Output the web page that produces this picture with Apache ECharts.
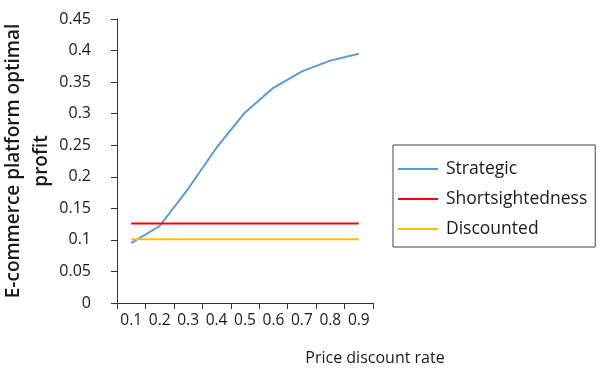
<!DOCTYPE html>
<html>
<head>
<meta charset="utf-8">
<script src="https://cdn.jsdelivr.net/npm/echarts@6/dist/echarts.min.js"></script>
<style>
  html, body { margin: 0; padding: 0; background: #fff; }
  #chart { width: 607px; height: 370px; }
</style>
</head>
<body>
<div id="chart"></div>
<script>
// Price discount rate categories
const discountRates = ['0.1', '0.2', '0.3', '0.4', '0.5', '0.6', '0.7', '0.8', '0.9'];
// Optimal profit of the e-commerce platform under each strategy
const strategic = [0.095, 0.122, 0.181, 0.246, 0.302, 0.341, 0.367, 0.384, 0.395];
const shortsightedness = [0.126, 0.126, 0.126, 0.126, 0.126, 0.126, 0.126, 0.126, 0.126];
const discounted = [0.101, 0.101, 0.101, 0.101, 0.101, 0.101, 0.101, 0.101, 0.101];

const FONT = 'Open Sans';
const TXT = '#1a1a1a';

const chart = echarts.init(document.getElementById('chart'), null, { renderer: 'canvas' });
chart.setOption({
  animation: false,
  backgroundColor: '#fff',
  textStyle: { fontFamily: FONT },
  grid: { left: 117, right: 234, top: 19, bottom: 67, containLabel: false, outerBoundsMode: 'none' },
  legend: {
    orient: 'vertical',
    left: 393,
    top: 145,
    padding: [15, 8, 9, 5],
    borderColor: '#444',
    borderWidth: 1,
    itemGap: 12,
    itemWidth: 40,
    itemHeight: 2,
    icon: 'rect',
    textStyle: { fontFamily: FONT, fontSize: 17.5, color: TXT, padding: [0, 0, 0, 3] },
    data: ['Strategic', 'Shortsightedness', 'Discounted']
  },
  xAxis: {
    type: 'category',
    data: discountRates,
    boundaryGap: true,
    name: 'Price discount rate',
    nameLocation: 'middle',
    nameGap: 47,
    nameTextStyle: { fontFamily: FONT, fontSize: 16, color: TXT, padding: [0, 0, 0, 260] },
    axisLine: { lineStyle: { color: '#333', width: 1 } },
    axisTick: { show: true, alignWithLabel: false, length: 6, lineStyle: { color: '#333' } },
    axisLabel: { fontFamily: FONT, fontSize: 15.5, color: TXT, margin: 10, interval: 0 }
  },
  yAxis: {
    type: 'value',
    min: 0,
    max: 0.45,
    interval: 0.05,
    name: 'E-commerce platform optimal\nprofit',
    nameLocation: 'middle',
    nameGap: 53,
    nameRotate: 90,
    nameTextStyle: { fontFamily: FONT, fontSize: 19, fontWeight: 600, color: TXT, lineHeight: 28, align: 'center' },
    axisLine: { show: true, lineStyle: { color: '#333', width: 1 } },
    axisTick: { show: true, length: 6, lineStyle: { color: '#333' } },
    splitLine: { show: false },
    axisLabel: { fontFamily: FONT, fontSize: 16, color: TXT, margin: 26 }
  },
  series: [
    { name: 'Strategic', type: 'line', data: strategic, symbol: 'none', color: '#5b9bd5', lineStyle: { width: 2, color: '#5b9bd5' } },
    { name: 'Shortsightedness', type: 'line', data: shortsightedness, symbol: 'none', color: '#ff0000', lineStyle: { width: 2, color: '#ff0000' } },
    { name: 'Discounted', type: 'line', data: discounted, symbol: 'none', color: '#ffc000', lineStyle: { width: 2, color: '#ffc000' } }
  ]
});
</script>
</body>
</html>
